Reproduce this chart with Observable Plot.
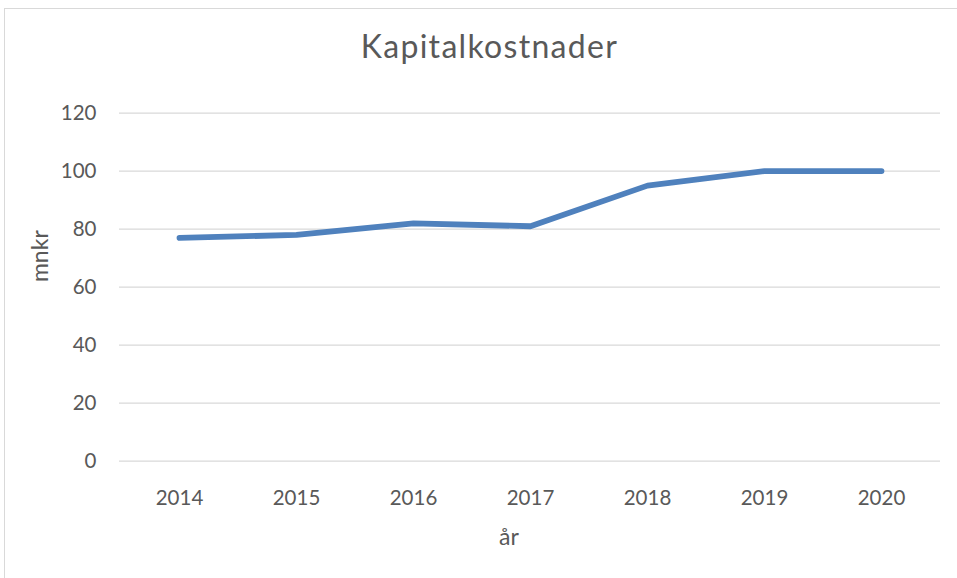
<!DOCTYPE html>
<html>
<head>
<meta charset="utf-8">
<script src="https://cdn.jsdelivr.net/npm/d3@7"></script>
<script src="https://cdn.jsdelivr.net/npm/@observablehq/plot@0.6"></script>
<style>
  html, body { margin: 0; padding: 0; background: #fff; overflow: hidden; width: 957px; height: 578px; }
  body { position: relative; font-family: Lato, "Liberation Sans", sans-serif; }
  .frame { position: absolute; left: 4px; top: 8px; width: 1000px; height: 620px; border: 1px solid #d9d9d9; pointer-events: none; }
  #title { position: relative; width: 979px; height: 80px; box-sizing: border-box; padding-top: 26px; line-height: 40px; text-align: center; font-size: 32px; color: #595959; letter-spacing: 1.3px; }
  #chart { position: relative; }
</style>
</head>
<body>
<div class="frame"></div>
<div id="title">Kapitalkostnader</div>
<div id="chart"></div>
<script>
const years = ["2014", "2015", "2016", "2017", "2018", "2019", "2020"];
const values = [77, 78, 82, 81, 95, 100, 100];
const yTicks = [0, 20, 40, 60, 80, 100, 120];
const xTitle = "år";
const yTitle = "mnkr";

const data = years.map((year, i) => ({year, value: values[i]}));
const textColor = "#595959";
const fontSize = 20.5;
const titleSize = 23;

const chart = Plot.plot({
  width: 957,
  height: 498,
  marginTop: 32.6,
  marginBottom: 117.3,
  marginLeft: 119,
  marginRight: 17,
  style: { fontFamily: "Lato, 'Liberation Sans', sans-serif", fontSize: fontSize + "px", color: textColor, background: "transparent" },
  x: { type: "point", domain: years, padding: 0.5, label: null },
  y: { domain: [0, 120], label: null },
  marks: [
    Plot.ruleY(yTicks, { stroke: "#d9d9d9", strokeWidth: 1.3 }),
    Plot.axisY({ ticks: yTicks, tickSize: 0, tickPadding: 23, label: null, fill: textColor, fontSize: fontSize }),
    Plot.axisX({ tickSize: 0, tickPadding: 29, label: null, fill: textColor, fontSize: fontSize }),
    Plot.line(data, { x: "year", y: "value", stroke: "#4f81bd", strokeWidth: 5.8, strokeLinecap: "round", strokeLinejoin: "round" }),
    Plot.text([xTitle], { frameAnchor: "bottom", dx: -21, dy: 76, fill: textColor, fontSize: titleSize, textAnchor: "middle", lineAnchor: "middle" }),
    Plot.text([yTitle], { frameAnchor: "left", dx: -79, dy: -31, rotate: -90, fill: textColor, fontSize: titleSize, textAnchor: "middle", lineAnchor: "middle" })
  ]
});
document.getElementById("chart").appendChild(chart);
</script>
</body>
</html>
